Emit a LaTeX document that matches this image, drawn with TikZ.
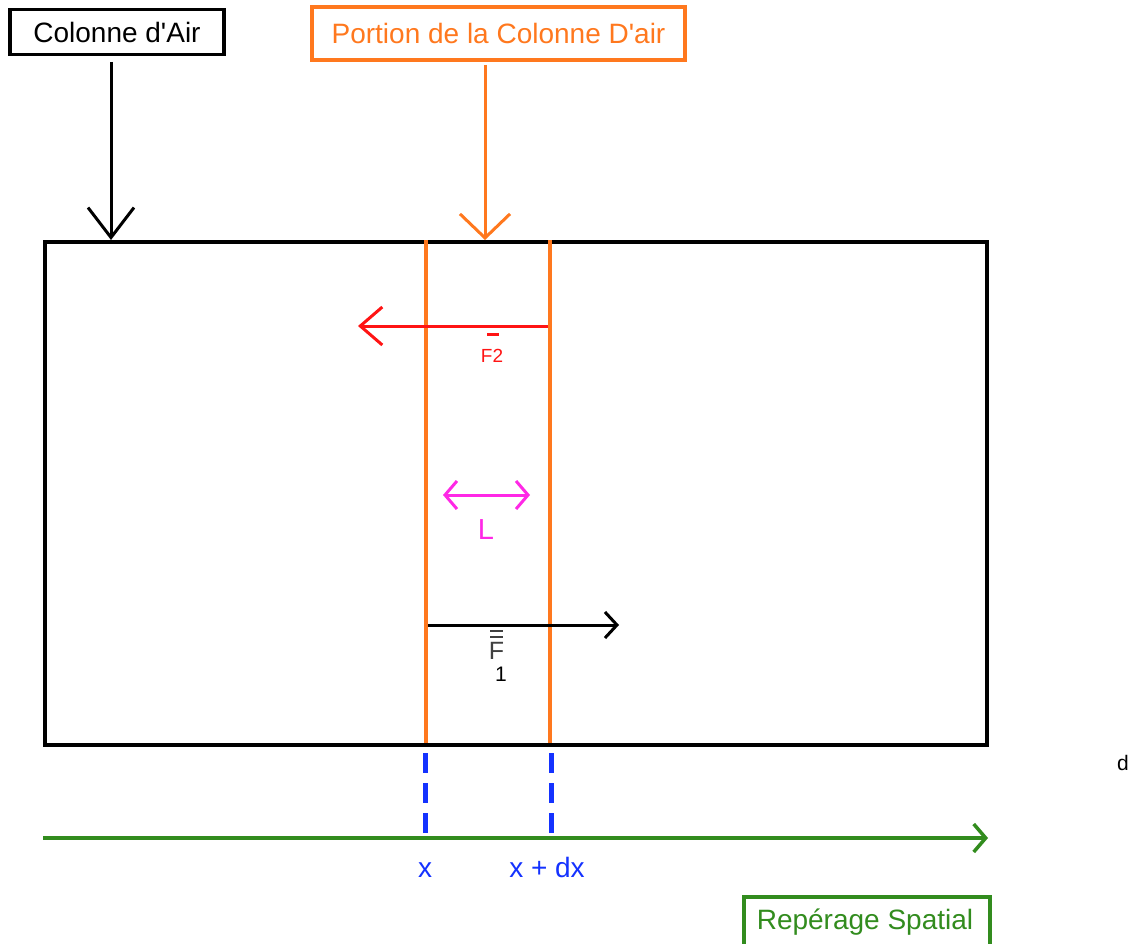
\documentclass[tikz,border=0pt]{standalone}
\usepackage{fontspec}
\setmainfont{Liberation Sans}[Ligatures=TeXOff]
\usetikzlibrary{arrows.meta}
\definecolor{myorange}{RGB}{255,120,30}
\definecolor{myred}{RGB}{255,20,20}
\definecolor{mymag}{RGB}{255,40,230}
\definecolor{myblue}{RGB}{20,50,255}
\definecolor{mygreen}{RGB}{50,140,30}
\tikzset{
  lbl/.style={font=\fontsize{28}{32}\selectfont, inner sep=0pt},
  boxlbl/.style={lbl, draw, line width=3.5pt, minimum height=45pt, inner xsep=8pt},
}
\begin{document}
\begin{tikzpicture}[x=1pt,y=-1pt]
\useasboundingbox (0,0) rectangle (1137,944);
% main rectangle
\node[draw, line width=3.5pt, minimum width=942pt, minimum height=503pt, inner sep=0pt, anchor=north west] (col) at (43,240) {};
% top labels
\node[boxlbl, minimum width=214pt] (lcol) at (117,32) {Colonne d'Air};
\node[boxlbl, draw=myorange, text=myorange, minimum width=373pt, minimum height=53pt] (lpor) at (498.5,33.5) {Portion de la Colonne D'air};
\coordinate (tcol) at (111,240);
\coordinate (tpor) at (485,240);
\draw[line width=3pt, -{Straight Barb[length=30pt, width=46pt]}] (111,62) -- (tcol);
\draw[myorange, line width=3pt, -{Straight Barb[length=24pt, width=50pt]}] (485,65) -- (tpor);
% orange slice lines
\coordinate (a1) at (426,240); \coordinate (a2) at (426,743);
\coordinate (b1) at (550,240); \coordinate (b2) at (550,743);
\draw[myorange, line width=3.5pt] (a1) -- (a2);
\draw[myorange, line width=3.5pt] (b1) -- (b2);
% F2
\coordinate (f2s) at (548,326); \coordinate (f2e) at (358,326);
\draw[myred, line width=3pt, -{Straight Barb[length=22pt, width=38pt]}] (f2s) -- (f2e);
\node[font=\fontsize{19}{22}\selectfont, text=myred, inner sep=0pt] (f2) at (492,356) {F2};
\draw[myred, line width=3pt] (487,334) -- (499,334);
% L
\coordinate (l1) at (443,495); \coordinate (l2) at (530,495);
\draw[mymag, line width=3pt, {Straight Barb[length=12pt, width=28pt]}-{Straight Barb[length=12pt, width=28pt]}] (l1) -- (l2);
\node[font=\fontsize{29}{32}\selectfont, text=mymag, inner sep=0pt] (ll) at (486,530) {L};
% F1
\coordinate (f1s) at (428,625); \coordinate (f1e) at (619,625);
\draw[line width=3pt, -{Straight Barb[length=12pt, width=26pt]}] (f1s) -- (f1e);
\node[font=\fontsize{25}{28}\selectfont, inner sep=0pt, text=black!75] (f1) at (496.5,651) {F};
\draw[black!75, line width=2.5pt] (490,631) -- (503,631);
\draw[black!75, line width=2.5pt] (490,637) -- (503,637);
\node[font=\fontsize{21}{24}\selectfont, inner sep=0pt] (f1i) at (501,674) {1};
% spatial axis
\coordinate (g1) at (43,838); \coordinate (g2) at (988,838);
\draw[mygreen, line width=3.5pt, -{Straight Barb[length=12pt, width=28pt]}] (g1) -- (g2);
\coordinate (x1) at (425,838); \coordinate (x2) at (551,838);
\draw[myblue, line width=5pt, dash pattern=on 20pt off 10pt] (425,753) -- (x1);
\draw[myblue, line width=5pt, dash pattern=on 20pt off 10pt] (551,753) -- (x2);
\node[lbl, text=myblue, anchor=base] (xl) at (425,877) {x};
\node[lbl, text=myblue, anchor=base] (xdl) at (547,877) {x + dx};
\node[font=\fontsize{21}{24}\selectfont, inner sep=0pt, anchor=base] (d) at (1123,770) {d};
\node[lbl, draw=mygreen, text=mygreen, line width=3.5pt, minimum width=246pt, minimum height=55pt, anchor=north west] (rep) at (742,895) {};
\node[lbl, text=mygreen, anchor=base] (repl) at (865,929) {Repérage Spatial};
\end{tikzpicture}
\end{document}
